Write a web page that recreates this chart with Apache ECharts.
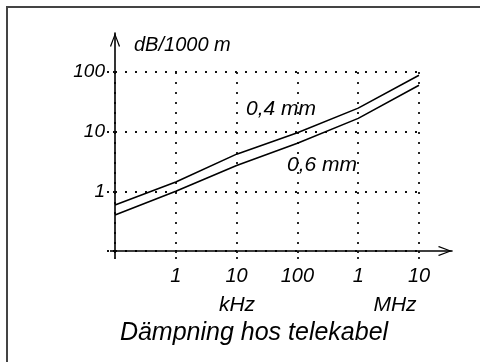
<!DOCTYPE html>
<html>
<head>
<meta charset="utf-8">
<script src="https://cdn.jsdelivr.net/npm/echarts@6/dist/echarts.min.js"></script>
<style>
  html, body { margin: 0; padding: 0; background: #fff; }
  #wrap { position: relative; width: 480px; height: 362px; overflow: hidden; }
  #chart { position: absolute; left: 0; top: 0; width: 480px; height: 362px; }
  #frame { position: absolute; left: 6px; top: 6px; width: 480px; height: 400px;
           border-left: 2px solid #444; border-top: 2px solid #444; pointer-events: none; }
</style>
</head>
<body>
<div id="wrap"><div id="chart"></div><div id="frame"></div></div>
<script>
// Frequency in kHz (100 Hz ... 10 MHz)
const freqKHz = [0.1, 1, 10, 100, 1000, 10000];
// Attenuation dB/1000 m
const att04 = [0.59, 1.43, 4.2, 9.6, 24.8, 88];
const att06 = [0.40, 1.0, 2.7, 6.4, 16.7, 60];
const xTickValues = [0.1, 1, 10, 100, 1000, 10000];
const xTickLabels = ['', '1', '10', '100', '1', '10'];
const yTickValues = [0.1, 1, 10, 100];
const yTickLabels = ['', '1', '10', '100'];
const seriesNames = ['0,4 mm', '0,6 mm'];
const yAxisName = 'dB/1000 m';
const unitLabels = ['kHz', 'MHz'];
const chartTitle = 'Dämpning hos telekabel';

const FONT = "'Liberation Sans', Arial, Helvetica, sans-serif";
function lookup(vals, labels, v) {
  for (let i = 0; i < vals.length; i++) {
    if (Math.abs(Math.log10(v) - Math.log10(vals[i])) < 1e-6) return labels[i];
  }
  return '';
}
const dotted = { color: '#111', width: 1.8, type: [2, 8] };
const tickDot = { color: '#111', width: 1.8, type: [2, 4] };
const arrow = 'path://M5,0 L10,13 L9,14 L5,3 L1,14 L0,13 Z';

const chart = echarts.init(document.getElementById('chart'), null, { renderer: 'canvas' });
chart.setOption({
  animation: false,
  backgroundColor: '#fff',
  textStyle: { fontFamily: FONT },
  grid: [
    { left: 115, right: 61, top: 72, bottom: 111 },
    { left: 115, right: 28, top: 33, bottom: 111 }
  ],
  xAxis: [
    {
      type: 'log', logBase: 10, gridIndex: 0, min: 0.1, max: 10000,
      axisLine: { show: false },
      axisTick: { show: true, length: 8, lineStyle: tickDot },
      splitLine: { show: true, lineStyle: dotted },
      minorTick: { show: false },
      axisLabel: {
        margin: 15, color: '#000', fontSize: 20, fontStyle: 'italic', fontFamily: FONT,
        formatter: v => lookup(xTickValues, xTickLabels, v)
      }
    },
    {
      type: 'value', gridIndex: 1, min: 0, max: 1,
      axisLine: { show: true, symbol: ['none', arrow], symbolSize: [10, 14], symbolOffset: [0, -7],
                  lineStyle: { color: '#000', width: 1.6 } },
      axisTick: { show: true, customValues: [0], length: 6, lineStyle: { color: '#000', width: 1.6 } },
      axisLabel: { show: false },
      splitLine: { show: false }
    }
  ],
  yAxis: [
    {
      type: 'log', logBase: 10, gridIndex: 0, min: 0.1, max: 100,
      axisLine: { show: false },
      axisTick: { show: true, length: 8, lineStyle: tickDot },
      splitLine: { show: true, lineStyle: dotted },
      axisLabel: {
        margin: 10, color: '#000', fontSize: 19, fontStyle: 'italic', fontFamily: FONT,
        formatter: v => lookup(yTickValues, yTickLabels, v)
      }
    },
    {
      type: 'value', gridIndex: 1, min: 0, max: 1,
      name: yAxisName, nameLocation: 'end', nameGap: -12,
      nameTextStyle: { color: '#000', fontSize: 20, fontStyle: 'italic', fontFamily: FONT,
                       align: 'left', verticalAlign: 'middle', padding: [0, 0, 0, 19] },
      axisLine: { show: true, symbol: ['none', arrow], symbolSize: [10, 14], symbolOffset: [0, -7],
                  lineStyle: { color: '#000', width: 1.6 } },
      axisTick: { show: true, customValues: [0], length: 5, lineStyle: { color: '#000', width: 1.6 } },
      axisLabel: { show: false },
      splitLine: { show: false }
    }
  ],
  series: [
    {
      name: seriesNames[0], type: 'line', xAxisIndex: 0, yAxisIndex: 0,
      data: freqKHz.map((f, i) => [f, att04[i]]),
      showSymbol: false, symbol: 'none', lineStyle: { color: '#000', width: 1.6 }, z: 5
    },
    {
      name: seriesNames[1], type: 'line', xAxisIndex: 0, yAxisIndex: 0,
      data: freqKHz.map((f, i) => [f, att06[i]]),
      showSymbol: false, symbol: 'none', lineStyle: { color: '#000', width: 1.6 }, z: 5
    }
  ],
  graphic: [
    { type: 'text', left: 246, top: 99, style: { text: seriesNames[0], fill: '#000',
      font: 'italic 21px ' + FONT } },
    { type: 'text', left: 287, top: 155, style: { text: seriesNames[1], fill: '#000',
      font: 'italic 21px ' + FONT } },
    { type: 'text', x: 237, y: 305, style: { text: unitLabels[0], fill: '#000',
      font: 'italic 21px ' + FONT, align: 'center', verticalAlign: 'middle' } },
    { type: 'text', x: 395, y: 305, style: { text: unitLabels[1], fill: '#000',
      font: 'italic 21px ' + FONT, align: 'center', verticalAlign: 'middle' } },
    { type: 'text', x: 254, y: 333, style: { text: chartTitle, fill: '#000',
      font: 'italic 25px ' + FONT, align: 'center', verticalAlign: 'middle' } }
  ]
});
</script>
</body>
</html>
